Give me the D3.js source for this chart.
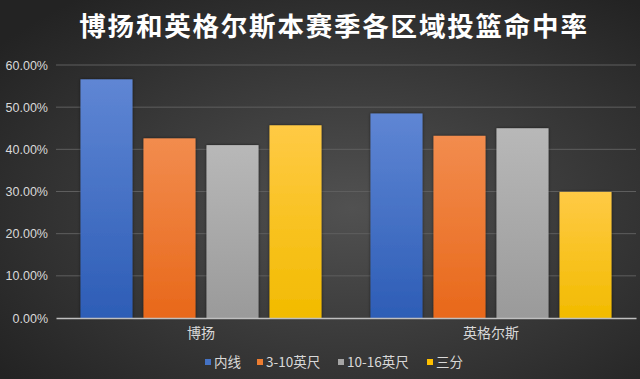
<!DOCTYPE html>
<html>
<head>
<meta charset="utf-8">
<script src="https://cdn.jsdelivr.net/npm/d3@7"></script>
<style>
  body { margin: 0; background: #333; }
  svg { display: block; font-family: "Noto Sans CJK SC", "Liberation Sans", sans-serif; }
</style>
</head>
<body>
<script>
// data
const players = ["博扬", "英格尔斯"];
const zones = ["内线", "3-10英尺", "10-16英尺", "三分"];
const inside = [0.566, 0.485];
const short = [0.426, 0.432];
const mid = [0.410, 0.450];
const three = [0.457, 0.299];
const yTicks = [0, 0.1, 0.2, 0.3, 0.4, 0.5, 0.6];

const series = [inside, short, mid, three];
const colors = [
  ["#5f86d4", "#2d5db6"],
  ["#f28c4e", "#e8681a"],
  ["#b8b8b8", "#9a9a9a"],
  ["#ffca45", "#f2bb00"]
];
const legendColors = ["#4472c4", "#ed7d31", "#a5a5a5", "#ffc000"];

const w = 640;
const h = 379;
const margin = {top: 65, right: 4, bottom: 61, left: 56};

const svg = d3.select("body")
  .append("svg")
  .attr("width", w)
  .attr("height", h);

const defs = svg.append("defs");
const bg = defs.append("radialGradient")
  .attr("id", "bg")
  .attr("cx", "55%").attr("cy", "55%").attr("r", "70%");
bg.append("stop").attr("offset", "0%").attr("stop-color", "#515151");
bg.append("stop").attr("offset", "100%").attr("stop-color", "#232323");

colors.forEach((c, i) => {
  const g = defs.append("linearGradient")
    .attr("id", "grad" + i)
    .attr("x1", 0).attr("y1", 0).attr("x2", 0).attr("y2", 1);
  g.append("stop").attr("offset", "0%").attr("stop-color", c[0]);
  g.append("stop").attr("offset", "100%").attr("stop-color", c[1]);
});

const shadow = defs.append("filter").attr("id", "shadow")
  .attr("x", "-20%").attr("y", "-20%").attr("width", "140%").attr("height", "140%");
shadow.append("feDropShadow")
  .attr("dx", 0).attr("dy", 0).attr("stdDeviation", 1.5)
  .attr("flood-color", "#000").attr("flood-opacity", 0.6);

svg.append("rect")
  .attr("width", w).attr("height", h)
  .attr("fill", "url(#bg)");

// title
svg.append("text")
  .attr("x", 334)
  .attr("y", 36)
  .attr("text-anchor", "middle")
  .attr("fill", "#ffffff")
  .attr("font-size", 26.5)
  .attr("font-weight", "bold")
  .attr("letter-spacing", 1.8)
  .text("博扬和英格尔斯本赛季各区域投篮命中率");

const yScale = d3.scaleLinear()
  .domain([0, 0.6])
  .range([h - margin.bottom, margin.top]);

const x0 = d3.scaleBand()
  .domain(players)
  .range([margin.left, w - margin.right])
  .paddingInner(0)
  .paddingOuter(0);

const x1 = d3.scaleBand()
  .domain(zones)
  .range([24.5, x0.bandwidth() - 24.5])
  .paddingInner(0.175);

// gridlines
svg.append("g")
  .selectAll("line")
  .data(yTicks.slice(1))
  .enter()
  .append("line")
  .attr("x1", margin.left)
  .attr("x2", w - margin.right)
  .attr("y1", (d) => yScale(d))
  .attr("y2", (d) => yScale(d))
  .attr("stroke", "#5e5e5e")
  .attr("stroke-width", 1);

// y axis
const yAxis = d3.axisLeft(yScale)
  .tickValues(yTicks)
  .tickFormat(d3.format(".2%"))
  .tickSize(0)
  .tickPadding(8);

const yg = svg.append("g")
  .attr("transform", `translate(${margin.left}, 0)`)
  .call(yAxis);
yg.select(".domain").remove();
yg.selectAll("text")
  .attr("fill", "#d9d9d9")
  .attr("font-size", 12.5)
  .attr("font-family", "Liberation Sans, sans-serif");

// bars
const groups = svg.append("g")
  .selectAll("g")
  .data(players)
  .enter()
  .append("g")
  .attr("transform", (d) => `translate(${x0(d)}, 0)`);

groups.selectAll("rect")
  .data((d, pi) => zones.map((z, zi) => ({zone: z, zi: zi, value: series[zi][pi]})))
  .enter()
  .append("rect")
  .attr("x", (d) => x1(d.zone))
  .attr("y", (d) => yScale(d.value))
  .attr("width", x1.bandwidth())
  .attr("height", (d) => yScale(0) - yScale(d.value))
  .attr("fill", (d) => "url(#grad" + d.zi + ")")
  .attr("filter", "url(#shadow)");

// x axis
const xAxis = d3.axisBottom(x0).tickSize(0).tickPadding(10);
const xg = svg.append("g")
  .attr("transform", `translate(0, ${h - margin.bottom})`)
  .call(xAxis);
xg.select(".domain")
  .attr("stroke", "#bfbfbf")
  .attr("stroke-width", 1.5);
xg.selectAll("text")
  .attr("fill", "#d9d9d9")
  .attr("font-size", 14)
  .attr("font-family", "Noto Sans CJK SC, sans-serif");

// legend
const legendX = [205, 257, 338, 427];
const legend = svg.append("g")
  .selectAll("g")
  .data(zones)
  .enter()
  .append("g")
  .attr("transform", (d, i) => `translate(${legendX[i]}, 362)`);

legend.append("rect")
  .attr("x", 0).attr("y", -3)
  .attr("width", 6).attr("height", 6)
  .attr("fill", (d, i) => legendColors[i]);

legend.append("text")
  .attr("x", 9)
  .attr("y", 5)
  .attr("fill", "#d9d9d9")
  .attr("font-size", 13.5)
  .text((d) => d);
</script>
</body>
</html>
